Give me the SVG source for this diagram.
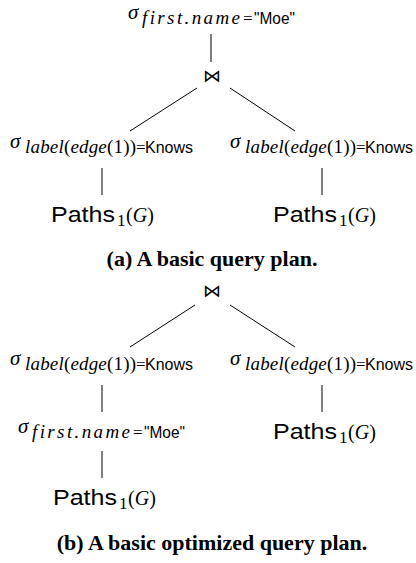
<svg xmlns="http://www.w3.org/2000/svg" width="416" height="563" viewBox="0 0 416 563">
<style>
text{fill:#000}
.sg{font-family:"Liberation Serif",serif;font-style:italic;font-size:21px}
.sub{font-family:"Liberation Serif",serif;font-style:italic;font-size:19px}
.up{font-style:normal}
.sf{font-family:"Liberation Sans",sans-serif;font-size:16px}
.eq{font-family:"Liberation Serif",serif;font-size:17px}
.pt{font-family:"Liberation Sans",sans-serif;font-size:22px}
.one{font-family:"Liberation Serif",serif;font-size:17px}
.pg{font-family:"Liberation Serif",serif;font-size:20px}
.cap{font-family:"Liberation Serif",serif;font-weight:bold;font-size:22px;text-anchor:middle}
.bt{font-family:"DejaVu Sans",sans-serif;font-size:18px;text-anchor:middle}
.e line{stroke:#000;stroke-width:1}
</style>
<g class="e" id="connectors">
<line x1="211" y1="34" x2="211" y2="62"/>
<line x1="197" y1="88" x2="130" y2="131"/>
<line x1="230" y1="88" x2="295" y2="131"/>
<line x1="102" y1="168" x2="102" y2="195"/>
<line x1="322" y1="168" x2="322" y2="195"/>
<line x1="195" y1="305" x2="130" y2="347"/>
<line x1="230" y1="305" x2="295" y2="347"/>
<line x1="102" y1="385" x2="102" y2="412"/>
<line x1="322" y1="385" x2="322" y2="412"/>
<line x1="102" y1="451" x2="102" y2="478"/>
</g>
<g id="a-sel-name">
<text class="sg" x="128" y="19">σ</text>
<text class="sub" x="142" y="24" textLength="98" lengthAdjust="spacing">first.name</text>
<text class="eq" x="243" y="24">=</text>
<text class="sf" x="254" y="24" textLength="41" lengthAdjust="spacingAndGlyphs">"Moe"</text>
</g>
<g id="a-join"><text class="bt" x="212" y="82">⋈</text></g>
<g id="a-sel-left">
<text class="sg" x="10" y="148">σ</text>
<text class="sub" x="25" y="153" textLength="111" lengthAdjust="spacing">label<tspan class="up">(</tspan>edge<tspan class="up">(1))</tspan></text>
<text class="eq" x="136" y="153">=</text>
<text class="sf" x="145" y="153" textLength="48" lengthAdjust="spacingAndGlyphs">Knows</text>
</g>
<g id="a-sel-right">
<text class="sg" x="230" y="148">σ</text>
<text class="sub" x="245" y="153" textLength="111" lengthAdjust="spacing">label<tspan class="up">(</tspan>edge<tspan class="up">(1))</tspan></text>
<text class="eq" x="356" y="153">=</text>
<text class="sf" x="365" y="153" textLength="48" lengthAdjust="spacingAndGlyphs">Knows</text>
</g>
<g id="a-paths-left">
<text class="pt" x="51" y="222" textLength="64" lengthAdjust="spacingAndGlyphs">Paths</text>
<text class="one" x="117" y="226">1</text>
<text class="pg" x="126" y="222">(<tspan font-style="italic">G</tspan>)</text>
</g>
<g id="a-paths-right">
<text class="pt" x="273" y="222" textLength="64" lengthAdjust="spacingAndGlyphs">Paths</text>
<text class="one" x="339" y="226">1</text>
<text class="pg" x="348" y="222">(<tspan font-style="italic">G</tspan>)</text>
</g>
<g id="caption-a"><text class="cap" x="212" y="266">(a) A basic query plan.</text></g>
<g id="b-join"><text class="bt" x="212" y="297">⋈</text></g>
<g id="b-sel-left">
<text class="sg" x="10" y="365">σ</text>
<text class="sub" x="25" y="370" textLength="111" lengthAdjust="spacing">label<tspan class="up">(</tspan>edge<tspan class="up">(1))</tspan></text>
<text class="eq" x="136" y="370">=</text>
<text class="sf" x="145" y="370" textLength="48" lengthAdjust="spacingAndGlyphs">Knows</text>
</g>
<g id="b-sel-right">
<text class="sg" x="230" y="365">σ</text>
<text class="sub" x="245" y="370" textLength="111" lengthAdjust="spacing">label<tspan class="up">(</tspan>edge<tspan class="up">(1))</tspan></text>
<text class="eq" x="356" y="370">=</text>
<text class="sf" x="365" y="370" textLength="48" lengthAdjust="spacingAndGlyphs">Knows</text>
</g>
<g id="b-sel-name">
<text class="sg" x="18" y="433">σ</text>
<text class="sub" x="32" y="438" textLength="98" lengthAdjust="spacing">first.name</text>
<text class="eq" x="133" y="438">=</text>
<text class="sf" x="144" y="438" textLength="41" lengthAdjust="spacingAndGlyphs">"Moe"</text>
</g>
<g id="b-paths-right">
<text class="pt" x="273" y="439" textLength="64" lengthAdjust="spacingAndGlyphs">Paths</text>
<text class="one" x="339" y="443">1</text>
<text class="pg" x="348" y="439">(<tspan font-style="italic">G</tspan>)</text>
</g>
<g id="b-paths-left">
<text class="pt" x="53" y="505" textLength="64" lengthAdjust="spacingAndGlyphs">Paths</text>
<text class="one" x="119" y="509">1</text>
<text class="pg" x="128" y="505">(<tspan font-style="italic">G</tspan>)</text>
</g>
<g id="caption-b"><text class="cap" x="212" y="550">(b) A basic optimized query plan.</text></g>
</svg>
